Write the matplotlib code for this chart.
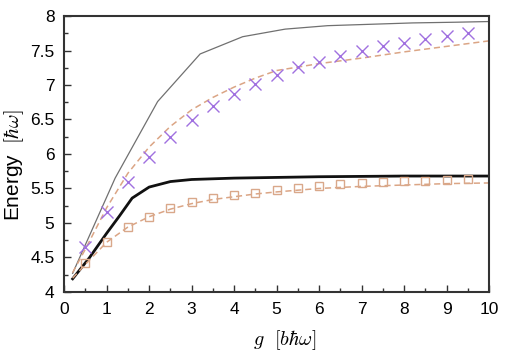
import matplotlib
matplotlib.use("Agg")
import matplotlib.pyplot as plt
from matplotlib.ticker import MultipleLocator

plt.rcParams['font.family'] = ['Liberation Sans', 'DejaVu Sans']
plt.rcParams['mathtext.fontset'] = 'cm'

# thin grey solid curve (upper)
g_upper = [0.2, 1.2, 2.2, 3.2, 4.2, 5.2, 6.2, 7.2, 8.2, 9.2, 10.0]
e_upper = [4.27, 5.65, 6.76, 7.45, 7.70, 7.81, 7.86, 7.88, 7.90, 7.91, 7.92]

# thick black solid curve (lower)
g_lower = [0.2, 0.6, 1.0, 1.3, 1.6, 2.0, 2.5, 3.0, 4.0, 5.0, 6.0, 7.0, 8.0, 9.0, 10.0]
e_lower = [4.19, 4.50, 4.85, 5.10, 5.36, 5.52, 5.60, 5.63, 5.65, 5.66, 5.67, 5.675, 5.68, 5.68, 5.68]

# dashed curves
g_dash = [0.2, 0.5, 1.0, 1.5, 2.0, 2.5, 3.0, 3.5, 4.0, 4.5, 5.0, 6.0, 7.0, 8.0, 9.0, 10.0]
e_dash_up = [4.28, 4.62, 5.22, 5.72, 6.10, 6.40, 6.64, 6.82, 6.97, 7.10, 7.21, 7.31, 7.39, 7.48, 7.56, 7.64]
e_dash_lo = [4.20, 4.40, 4.72, 4.94, 5.09, 5.20, 5.28, 5.34, 5.38, 5.42, 5.45, 5.50, 5.53, 5.55, 5.57, 5.58]

# markers
g_pts = [0.5, 1.0, 1.5, 2.0, 2.5, 3.0, 3.5, 4.0, 4.5, 5.0, 5.5, 6.0, 6.5, 7.0, 7.5, 8.0, 8.5, 9.0, 9.5]
e_cross = [4.65, 5.16, 5.60, 5.95, 6.25, 6.49, 6.70, 6.87, 7.01, 7.14, 7.26, 7.34, 7.42, 7.49, 7.56, 7.61, 7.67, 7.71, 7.75]
e_square = [4.42, 4.72, 4.94, 5.09, 5.21, 5.30, 5.36, 5.41, 5.44, 5.48, 5.51, 5.54, 5.56, 5.58, 5.59, 5.61, 5.61, 5.62, 5.63]

fig = plt.figure(figsize=(5.09, 3.56), dpi=100)
ax = fig.add_axes([0.126, 0.180, 0.835, 0.775])

ax.plot(g_upper, e_upper, color='#707070', lw=0.9)
ax.plot(g_lower, e_lower, color='#111111', lw=2.0)
ax.plot(g_dash, e_dash_up, color='#dba585', lw=1.1, ls=(0, (4, 2.5)))
ax.plot(g_dash, e_dash_lo, color='#dba585', lw=1.1, ls=(0, (4, 2.5)))
ax.plot(g_pts, e_cross, ls='none', marker='x', ms=8, mew=1.0, color='#a070e0')
ax.plot(g_pts, e_square, ls='none', marker='s', ms=6, mew=1.0,
        mfc='none', mec='#d9a88a')

ax.set_xlim(0, 10)
ax.set_ylim(4, 8)
ax.xaxis.set_major_locator(MultipleLocator(1))
ax.xaxis.set_minor_locator(MultipleLocator(0.5))
ax.yaxis.set_major_locator(MultipleLocator(0.5))
ax.yaxis.set_minor_locator(MultipleLocator(0.25))
ax.yaxis.set_major_formatter(plt.FuncFormatter(lambda v, p: f"{v:g}"))
ax.tick_params(which='both', direction='in', top=False, right=False,
               labelsize=12.5, color='#333333', pad=7)
ax.tick_params(which='major', length=5, width=1.0)
ax.tick_params(which='minor', length=3, width=1.0)
for s in ax.spines.values():
    s.set_linewidth(1.5)
    s.set_color('#333333')

ax.set_xlabel(r'$g\ \ [b\hbar\omega]$', fontsize=14.5, labelpad=4)
ax.set_ylabel(r'Energy $\;[\hbar\omega]$', fontsize=15, labelpad=6)
ax.xaxis.set_label_coords(0.52, -0.13)
ax.yaxis.set_label_coords(-0.09, 0.46)

fig.savefig('out.png', dpi=100)
